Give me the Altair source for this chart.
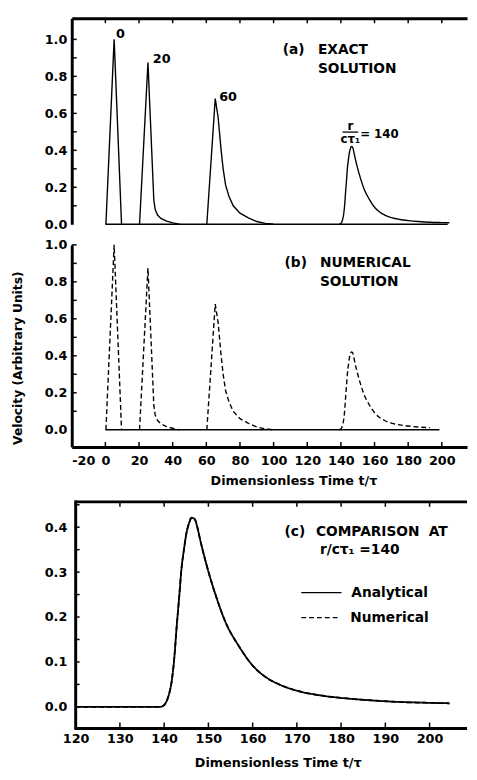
import altair as alt
import pandas as pd

# ---------------- data ----------------
pulse_names = ["0", "20", "60", "140"]
p0_t = [0.3, 5.2, 9.6]
p0_v = [0.0, 1.0, 0.0]
p20_t = [20.3, 25.3, 28.8, 29.6, 31.0, 33.0, 36.0, 40.0, 44.0]
p20_v = [0.0, 0.875, 0.13, 0.08, 0.05, 0.032, 0.018, 0.008, 0.0]
p60_t = [60.3, 65.3, 67.0, 68.8, 70.0, 71.5, 73.5, 76.0, 80.0, 85.0, 90.0, 95.0, 100.0]
p60_v = [0.0, 0.68, 0.58, 0.40, 0.30, 0.21, 0.15, 0.10, 0.06, 0.035, 0.015, 0.005, 0.0]
p140_t = [139.1, 140.0, 140.6, 141.2, 141.7, 142.3, 142.8, 143.4, 143.9, 144.5, 145.0,
          145.6, 146.2, 146.9, 147.5, 148.0, 149.5, 151.7, 153.9, 156.9, 160.0, 163.0,
          166.0, 170.0, 175.0, 180.0, 186.0, 193.0, 200.0, 204.5]
p140_v = [0.0, 0.004, 0.014, 0.032, 0.057, 0.11, 0.175, 0.245, 0.306, 0.352, 0.385,
          0.408, 0.421, 0.418, 0.400, 0.378, 0.319, 0.247, 0.188, 0.135, 0.092, 0.066,
          0.050, 0.036, 0.026, 0.020, 0.015, 0.011, 0.009, 0.008]
peak_t = [5.2, 25.3, 65.3]
peak_v = [1.0, 0.875, 0.68]

exact_start, exact_end = 0.0, 203.5
numer_start, numer_end = 0.0, 198.6
comp_start = 120.0
series_names = ["Analytical", "Numerical"]

x_ab_labels = [-20, 0, 20, 40, 60, 80, 100, 120, 140, 160, 180, 200]
x_ab_ticks = [0, 20, 40, 60, 80, 100, 120, 140, 160, 180, 200]
y_ab_labels = [0.0, 0.2, 0.4, 0.6, 0.8, 1.0]
y_ab_ticks = [0.1, 0.2, 0.3, 0.4, 0.5, 0.6, 0.7, 0.8, 0.9, 1.0]
x_c_labels = [120, 130, 140, 150, 160, 170, 180, 190, 200]
x_c_ticks = [130, 140, 150, 160, 170, 180, 190, 200]
y_c_labels = [0.0, 0.1, 0.2, 0.3, 0.4]
y_c_ticks = [0.05, 0.10, 0.15, 0.20, 0.25, 0.30, 0.35, 0.40, 0.45]

# ---------------- tables ----------------
rows = []
for name, ts, vs in zip(pulse_names, [p0_t, p20_t, p60_t, p140_t], [p0_v, p20_v, p60_v, p140_v]):
    for t, v in zip(ts, vs):
        rows.append({"pulse": name, "t": t, "v": v})
pulses = pd.DataFrame(rows)
sharp = pulses[pulses["pulse"] != "140"]
smooth = pulses[pulses["pulse"] == "140"]
sharp_num = sharp
smooth_num = smooth[smooth["t"] <= numer_end]

crow = []
for s in series_names:
    crow.append({"series": s, "t": comp_start, "v": 0.0})
    for t, v in zip(p140_t, p140_v):
        crow.append({"series": s, "t": t, "v": v})
comp = pd.DataFrame(crow)

FONT = "DejaVu Sans"
W = 403
HA, HB, HC = 210, 206, 266

xs_ab = alt.Scale(domain=[-20, 215], nice=False, zero=False)
ys_a = alt.Scale(domain=[0, 1.114], nice=False, zero=False)
ys_b = alt.Scale(domain=[-0.093, 1.0], nice=False, zero=False)
xs_c = alt.Scale(domain=[119.11, 208.47], nice=False, zero=False)
ys_c = alt.Scale(domain=[-0.048, 0.5328], nice=False, zero=False)

ax_a_x = alt.Axis(orient="top", labels=False, title=None, values=x_ab_ticks, tickSize=0)
ax_a_y = alt.Axis(values=y_ab_labels, format=".1f", title=None, labelPadding=5, tickSize=0)
ax_b_x = alt.Axis(orient="bottom", values=x_ab_labels, title="Dimensionless Time  t/τ",
                  labelExpr="replace(datum.label, '−', '-')",
                  labelPadding=8, tickSize=0, titleX=226, titleY=34, titleBaseline="middle")
ax_b_y = alt.Axis(values=y_ab_labels, format=".1f", title="Velocity (Arbitrary Units)",
                  labelPadding=5, tickSize=0, titleX=-55, titleY=115, titleBaseline="middle",
                  titleFontSize=12.5)
ax_c_x = alt.Axis(orient="bottom", values=x_c_labels, title="Dimensionless Time  t/τ",
                  labelPadding=4, tickSize=0, domain=False, titleX=210, titleY=35,
                  titleBaseline="middle")
ax_c_y = alt.Axis(values=y_c_labels, format=".1f", title=None, labelPadding=5, tickSize=0,
                  domain=False)


def txt(label, x, y, size=14, align="left"):
    return alt.Chart(pd.DataFrame({"label": [label]})).mark_text(
        font=FONT, fontSize=size, fontWeight="bold", color="black", align=align, baseline="middle"
    ).encode(x=alt.value(x), y=alt.value(y), text="label:N")


def peak_label(i, dx, dy):
    d = pd.DataFrame({"t": [peak_t[i]], "v": [peak_v[i]], "label": [pulse_names[i]]})
    return alt.Chart(d).mark_text(
        font=FONT, fontSize=13, fontWeight="bold", color="black", align="left",
        baseline="middle", dx=dx, dy=dy
    ).encode(x=alt.X("t:Q", scale=xs_ab, axis=ax_a_x), y=alt.Y("v:Q", scale=ys_a, axis=ax_a_y),
             text="label:N")


def pulse_line(df, xax, ys, yax, interp, dash=None):
    kw = dict(color="black", strokeWidth=1.4, interpolate=interp)
    if dash:
        kw["strokeDash"] = dash
    return alt.Chart(df).mark_line(**kw).encode(
        x=alt.X("t:Q", scale=xs_ab, axis=xax), y=alt.Y("v:Q", scale=ys, axis=yax),
        detail="pulse:N", order="t:Q")


one = pd.DataFrame({"k": [0]})

# ---------------- panel (a) ----------------
a_base = alt.Chart(pd.DataFrame({"t": [exact_start], "t2": [exact_end], "v": [0.0]})).mark_rule(
    color="black", strokeWidth=1.6
).encode(x=alt.X("t:Q", scale=xs_ab, axis=ax_a_x), x2="t2:Q",
         y=alt.Y("v:Q", scale=ys_a, axis=ax_a_y))
a_xt = alt.Chart(pd.DataFrame({"t": x_ab_ticks})).mark_rule(color="black", strokeWidth=1.5).encode(
    x=alt.X("t:Q", scale=xs_ab, axis=ax_a_x), y=alt.value(0), y2=alt.value(5))
a_yt = alt.Chart(pd.DataFrame({"v": y_ab_ticks})).mark_rule(color="black", strokeWidth=1.5).encode(
    y=alt.Y("v:Q", scale=ys_a, axis=ax_a_y), x=alt.value(0), x2=alt.value(5))
frac_line = alt.Chart(one).mark_rule(color="black", strokeWidth=1.3).encode(
    x=alt.value(276), x2=alt.value(292), y=alt.value(116))
panel_a = alt.layer(
    a_base,
    pulse_line(sharp, ax_a_x, ys_a, ax_a_y, "linear"),
    pulse_line(smooth, ax_a_x, ys_a, ax_a_y, "monotone"),
    a_xt, a_yt,
    peak_label(0, 2, -5), peak_label(1, 5, -3), peak_label(2, 4, -1),
    txt("(a)", 215, 32), txt("EXACT", 251, 32), txt("SOLUTION", 251, 52),
    txt("r", 284, 110, 12, "center"), frac_line, txt("cτ₁", 284, 123, 12, "center"),
    txt("= 140", 294, 118, 12),
).properties(width=W, height=HA)

# ---------------- panel (b) ----------------
b_base = alt.Chart(pd.DataFrame({"t": [numer_start], "t2": [numer_end], "v": [0.0]})).mark_rule(
    color="black", strokeWidth=1.6
).encode(x=alt.X("t:Q", scale=xs_ab, axis=ax_b_x), x2="t2:Q",
         y=alt.Y("v:Q", scale=ys_b, axis=ax_b_y))
b_xt = alt.Chart(pd.DataFrame({"t": x_ab_ticks})).mark_rule(color="black", strokeWidth=1.5).encode(
    x=alt.X("t:Q", scale=xs_ab, axis=ax_b_x), y=alt.value(HB), y2=alt.value(HB - 5))
b_yt = alt.Chart(pd.DataFrame({"v": y_ab_ticks})).mark_rule(color="black", strokeWidth=1.5).encode(
    y=alt.Y("v:Q", scale=ys_b, axis=ax_b_y), x=alt.value(0), x2=alt.value(5))
panel_b = alt.layer(
    b_base,
    pulse_line(sharp_num, ax_b_x, ys_b, ax_b_y, "linear", [5, 3]),
    pulse_line(smooth_num, ax_b_x, ys_b, ax_b_y, "monotone", [5, 3]),
    b_xt, b_yt,
    txt("(b)", 217, 19), txt("NUMERICAL", 253, 19), txt("SOLUTION", 253, 38),
).properties(width=W, height=HB)

# ---------------- panel (c) ----------------
TOPC = 35
frame_top = alt.Chart(one).mark_rule(color="black", strokeWidth=3).encode(
    x=alt.value(4), x2=alt.value(W), y=alt.value(TOPC))
frame_bot = alt.Chart(one).mark_rule(color="black", strokeWidth=3).encode(
    x=alt.value(4), x2=alt.value(W), y=alt.value(HC))
frame_left = alt.Chart(one).mark_rule(color="black", strokeWidth=3).encode(
    x=alt.value(4), y=alt.value(TOPC - 1.5), y2=alt.value(HC + 1.5))
c_lines = alt.Chart(comp).mark_line(color="black", strokeWidth=1.8, interpolate="monotone").encode(
    x=alt.X("t:Q", scale=xs_c, axis=ax_c_x), y=alt.Y("v:Q", scale=ys_c, axis=ax_c_y),
    strokeDash=alt.StrokeDash(
        "series:N",
        scale=alt.Scale(domain=series_names, range=[[1, 0], [5, 3]]),
        legend=None),
    order="t:Q")
leg_solid = alt.Chart(one).mark_rule(color="black", strokeWidth=1.3).encode(
    x=alt.value(234), x2=alt.value(275), y=alt.value(127.5))
leg_dash = alt.Chart(one).mark_rule(color="black", strokeWidth=1.3, strokeDash=[5, 3]).encode(
    x=alt.value(234), x2=alt.value(274), y=alt.value(153))
c_xt_top = alt.Chart(pd.DataFrame({"t": x_c_ticks})).mark_rule(color="black", strokeWidth=1.5).encode(
    x=alt.X("t:Q", scale=xs_c, axis=ax_c_x), y=alt.value(TOPC), y2=alt.value(TOPC + 5))
c_xt_bot = alt.Chart(pd.DataFrame({"t": x_c_ticks})).mark_rule(color="black", strokeWidth=1.5).encode(
    x=alt.X("t:Q", scale=xs_c, axis=ax_c_x), y=alt.value(HC), y2=alt.value(HC - 6))
c_yt = alt.Chart(pd.DataFrame({"v": y_c_ticks})).mark_rule(color="black", strokeWidth=1.5).encode(
    y=alt.Y("v:Q", scale=ys_c, axis=ax_c_y), x=alt.value(4), x2=alt.value(8))
panel_c = alt.layer(
    frame_top, frame_bot, frame_left, c_xt_top, c_xt_bot, c_yt, c_lines,
    leg_solid, leg_dash,
    txt(series_names[0], 285, 127.5), txt(series_names[1], 284, 153),
    txt("(c)", 217, 66), txt("COMPARISON", 249, 66), txt("AT", 364, 66),
    txt("r/cτ₁ =140", 253, 84),
).properties(width=W, height=HC)

chart = alt.vconcat(panel_a, panel_b, panel_c, spacing=21, bounds="flush").properties(
    padding={"left": 3, "top": 2, "right": 0, "bottom": 0}
).configure_view(stroke=None).configure_axis(
    labelFont=FONT, labelFontSize=13, labelFontWeight="bold", labelColor="black",
    titleFont=FONT, titleFontSize=13, titleFontWeight="bold", titleColor="black",
    domainColor="black", domainWidth=3, grid=False
)

chart.save("out.html", embed_options={"renderer": "svg", "actions": False})
